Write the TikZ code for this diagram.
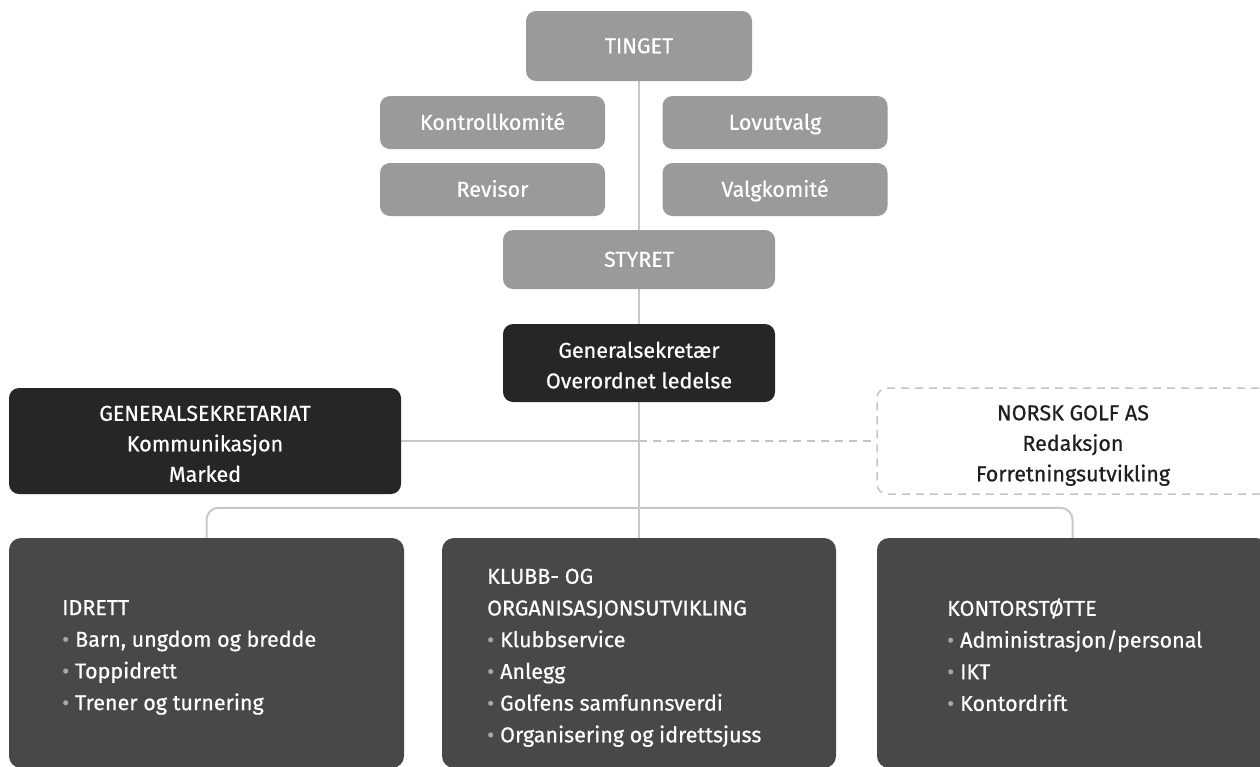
\documentclass[tikz,border=0pt]{standalone}
\usepackage{fontspec}
\setmainfont{Fira Sans}[FakeBold=0.6]
\usetikzlibrary{backgrounds}
\definecolor{lightbox}{HTML}{9A9A99}
\definecolor{darkbox}{HTML}{282625}
\definecolor{midbox}{HTML}{4A4846}
\definecolor{connc}{HTML}{C8C8C8}
\definecolor{dashc}{HTML}{C4C4C4}
\definecolor{bul}{HTML}{A8A8A8}
\newcommand{\bitem}[1]{\textcolor{bul}{•}\hspace{6pt}#1}
\begin{document}
\begin{tikzpicture}[x=1pt,y=-1pt,
  boxbase/.style={rounded corners=10pt, inner sep=0pt, text=white, align=center,
    font=\fontsize{21.5}{30.5}\selectfont},
  single/.style={text height=14.5pt, text depth=0pt},
  lbox/.style={boxbase, fill=lightbox},
  dbox/.style={boxbase, fill=darkbox},
  nbox/.style={boxbase, draw=dashc, line width=1.5pt, dash pattern=on 8pt off 6pt},
  ctext/.style={anchor=north, inner sep=0pt, align=center, font=\fontsize{21.5}{30.5}\selectfont},
  bbox/.style={rounded corners=12pt, fill=midbox, inner sep=0pt},
  btext/.style={anchor=north west, inner sep=0pt, text=white, align=left,
    font=\fontsize{21.5}{31.7}\selectfont},
  conn/.style={draw=connc, line width=2pt},
  dconn/.style={draw=dashc, line width=1.5pt, dash pattern=on 8pt off 6pt}
]
\useasboundingbox (0,0) rectangle (1260,766);

\node[lbox, single, minimum width=226pt, minimum height=70pt] (tinget) at (639,46) {TINGET};
\node[lbox, single, minimum width=225pt, minimum height=53pt] (kontroll) at (492.5,122.5) {Kontrollkomité};
\node[lbox, single, minimum width=225pt, minimum height=53pt] (lov) at (775,122.5) {Lovutvalg};
\node[lbox, single, minimum width=225pt, minimum height=53pt] (revisor) at (492.5,189.5) {Revisor};
\node[lbox, single, minimum width=225pt, minimum height=53pt] (valg) at (775,189.5) {Valgkomité};
\node[lbox, single, minimum width=272pt, minimum height=59pt] (styret) at (639,259.5) {STYRET};

\node[dbox, minimum width=272pt, minimum height=78pt] (gensek) at (639,363) {};
\node[ctext, text=white] (gensekT) at (639,341.5) {Generalsekretær\\Overordnet ledelse};
\node[dbox, minimum width=392pt, minimum height=106pt] (gsat) at (205,441) {};
\node[ctext, text=white] (gsatT) at (205,405.5) {GENERALSEKRETARIAT\\Kommunikasjon\\Marked};
\node[nbox, minimum width=392pt, minimum height=106pt] (norsk) at (1073,441) {};
\node[ctext, text=black!88] (norskT) at (1073,405) {NORSK GOLF AS\\Redaksjon\\Forretningsutvikling};

\node[bbox, minimum width=395pt, minimum height=230pt] (idrett) at (206.5,653) {};
\node[bbox, minimum width=394pt, minimum height=230pt] (klubb) at (639,653) {};
\node[bbox, minimum width=391pt, minimum height=230pt] (kontor) at (1072.5,653) {};

\node[btext] (idrettT) at (62,600) {IDRETT\\\bitem{Barn, ungdom og bredde}\\\bitem{Toppidrett}\\\bitem{Trener og turnering}};
\node[btext] (klubbT) at (487,568.5) {KLUBB- OG\\ORGANISASJONSUTVIKLING\\\bitem{Klubbservice}\\\bitem{Anlegg}\\\bitem{Golfens samfunnsverdi}\\\bitem{Organisering og idrettsjuss}};
\node[btext] (kontorT) at (947,598) {KONTORSTØTTE\\\bitem{Administrasjon/personal}\\\bitem{IKT}\\\bitem{Kontordrift}};

\coordinate (hub) at (gensek.south |- gsat.east);
\begin{scope}[on background layer]
  \draw[conn] (tinget.south) -- (gensek.north);
  \draw[conn] (gensek.south) -- (klubb.north);
  \draw[conn] (gsat.east) -- (hub);
  \draw[dconn] (hub) -- (norsk.west);
  \draw[conn, rounded corners=12pt] (idrett.north) -- ++(0,-30) -| (kontor.north);
\end{scope}
\end{tikzpicture}
\end{document}
